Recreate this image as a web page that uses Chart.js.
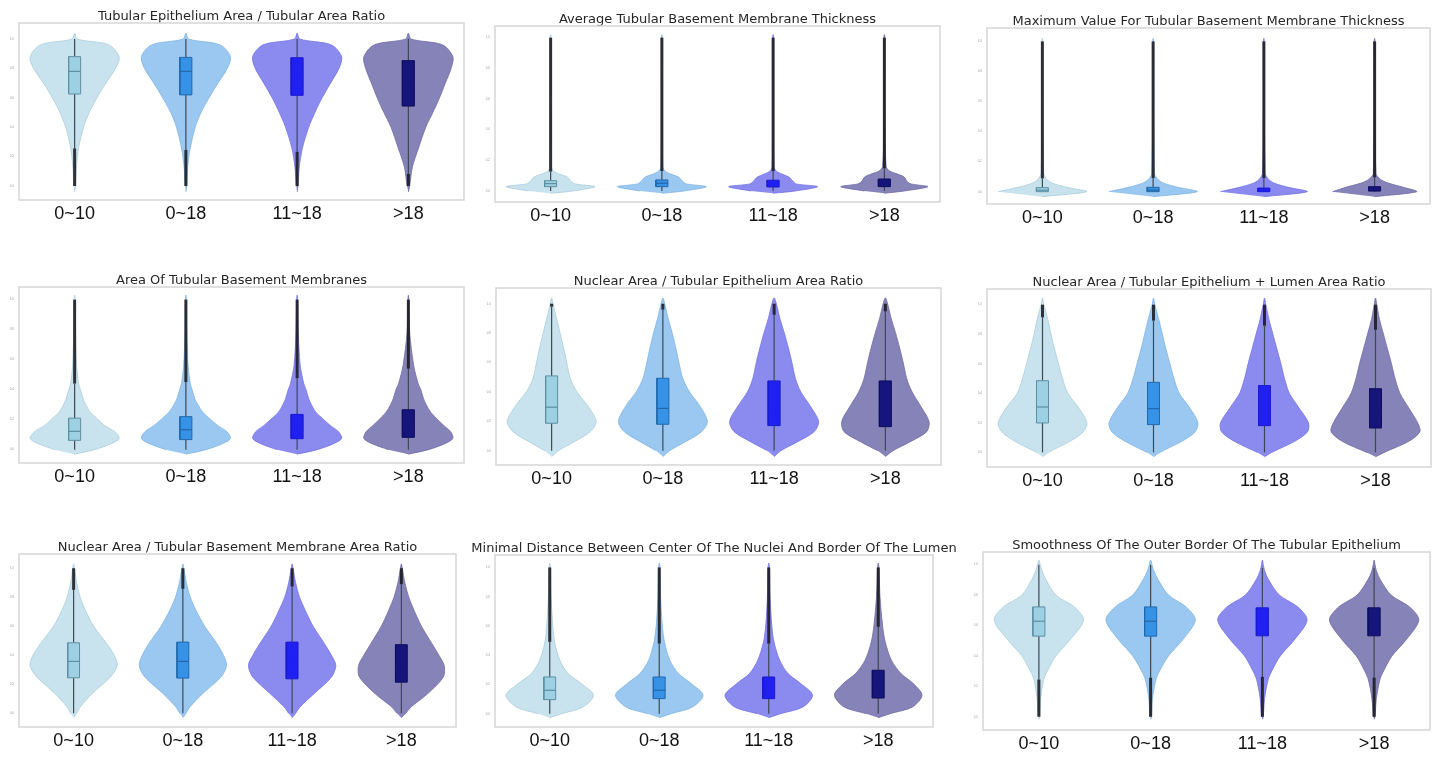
<!DOCTYPE html>
<html>
<head>
<meta charset="utf-8">
<script src="https://cdn.jsdelivr.net/npm/chart.js@4.4.1/dist/chart.umd.min.js"></script>
<style>
  html, body { margin: 0; padding: 0; background: #fff; width: 1440px; height: 757px; overflow: hidden; position: relative; }
  canvas { position: absolute; }
</style>
</head>
<body>
<script>
// dados //
const categories = ['0~10', '0~18', '11~18', '>18'];
const tickValues = [0, 0.2, 0.4, 0.6, 0.8, 1.0];
const panelTitles = [
  'Tubular Epithelium Area / Tubular Area Ratio',
  'Average Tubular Basement Membrane Thickness',
  'Maximum Value For Tubular Basement Membrane Thickness',
  'Area Of Tubular Basement Membranes',
  'Nuclear Area / Tubular Epithelium Area Ratio',
  'Nuclear Area / Tubular Epithelium + Lumen Area Ratio',
  'Nuclear Area / Tubular Basement Membrane Area Ratio',
  'Minimal Distance Between Center Of The Nuclei And Border Of The Lumen',
  'Smoothness Of The Outer Border Of The Tubular Epithelium'
];
const yRanges = [[-0.095, 1.109], [-0.072, 1.076], [-0.082, 1.089], [-0.089, 1.084], [-0.097, 1.107],
                 [-0.099, 1.106], [-0.094, 1.098], [-0.091, 1.085], [-0.087, 1.083]];

// painel 1
const p1Levels = [-0.04, 0, 0.13, 0.26, 0.4, 0.5, 0.6, 0.7, 0.8, 0.88, 0.96, 1.0, 1.04];
const p1Widths = [
  [0, 0.02, 0.04, 0.09, 0.2, 0.33, 0.5, 0.7, 0.92, 1.0, 0.77, 0.06, 0],
  [0, 0.02, 0.04, 0.1, 0.21, 0.34, 0.52, 0.72, 0.93, 1.0, 0.77, 0.06, 0],
  [0, 0.02, 0.05, 0.12, 0.26, 0.4, 0.56, 0.75, 0.94, 1.0, 0.77, 0.06, 0],
  [0, 0.03, 0.09, 0.23, 0.39, 0.55, 0.7, 0.83, 0.96, 1.0, 0.77, 0.06, 0]
];
const p1Boxes = [[0.256, 0.626, 0.78, 0.88, 1.0], [0.245, 0.62, 0.78, 0.875, 1.0], [0.233, 0.617, 0.76, 0.873, 1.0], [0.082, 0.544, 0.72, 0.853, 1.0]];
const p1Outliers = [[0, 0.256], [0, 0.245], [0, 0.233], [0, 0.082]];

// painel 2
const p2Levels = [-0.015, 0.0, 0.028, 0.046, 0.065, 0.09, 0.11, 0.13, 0.16, 0.5, 1.0, 1.02];
const p2Widths = [
  [0, 0.5, 1.0, 0.55, 0.45, 0.38, 0.2, 0.06, 0.02, 0.01, 0.01, 0],
  [0, 0.5, 1.0, 0.55, 0.46, 0.38, 0.2, 0.07, 0.02, 0.01, 0.01, 0],
  [0, 0.5, 1.0, 0.52, 0.44, 0.36, 0.2, 0.07, 0.02, 0.01, 0.01, 0],
  [0, 0.45, 0.98, 0.6, 0.5, 0.45, 0.3, 0.12, 0.04, 0.01, 0.01, 0]
];
const p2Boxes = [[0, 0.028, 0.048, 0.067, 0.126], [0, 0.028, 0.05, 0.072, 0.13], [0, 0.026, 0.048, 0.07, 0.13], [0, 0.028, 0.05, 0.078, 0.148]];
const p2Outliers = [[0.126, 1], [0.13, 1], [0.13, 1], [0.148, 1]];

// painel 3
const p3Levels = [-0.033, 0.0, 0.029, 0.056, 0.078, 0.1, 0.12, 0.5, 1.0, 1.02];
const p3Widths = [
  [0, 1.0, 0.55, 0.23, 0.11, 0.06, 0.03, 0.01, 0.01, 0],
  [0, 1.0, 0.56, 0.24, 0.12, 0.06, 0.03, 0.01, 0.01, 0],
  [0, 0.98, 0.55, 0.24, 0.12, 0.06, 0.03, 0.01, 0.01, 0],
  [0, 0.95, 0.65, 0.32, 0.15, 0.07, 0.03, 0.01, 0.01, 0]
];
const p3Boxes = [[0, 0.0, 0.01, 0.027, 0.089], [0, 0.0, 0.01, 0.029, 0.09], [0, 0.0, 0.01, 0.024, 0.09], [0, 0.004, 0.015, 0.033, 0.095]];
const p3Outliers = [[0.089, 1], [0.09, 1], [0.09, 1], [0.095, 1]];

// painel 4
const p4Levels = [-0.03, 0.0, 0.04, 0.075, 0.12, 0.16, 0.2, 0.25, 0.3, 0.34, 0.4, 0.44, 0.56, 0.78, 1.0, 1.03];
const p4Widths = [
  [0, 0.45, 0.82, 1.0, 0.9, 0.68, 0.53, 0.35, 0.25, 0.19, 0.13, 0.09, 0.045, 0.02, 0.01, 0],
  [0, 0.45, 0.82, 1.0, 0.92, 0.72, 0.56, 0.38, 0.27, 0.2, 0.14, 0.1, 0.05, 0.02, 0.01, 0],
  [0, 0.45, 0.82, 1.0, 0.93, 0.75, 0.6, 0.42, 0.32, 0.26, 0.2, 0.15, 0.07, 0.025, 0.01, 0],
  [0, 0.45, 0.82, 1.0, 0.95, 0.8, 0.66, 0.5, 0.4, 0.34, 0.28, 0.22, 0.12, 0.03, 0.01, 0]
];
const p4Boxes = [[0, 0.062, 0.122, 0.21, 0.44], [0, 0.067, 0.133, 0.22, 0.45], [0, 0.073, 0.14, 0.235, 0.476], [0, 0.082, 0.16, 0.266, 0.54]];
const p4Outliers = [[0.44, 1], [0.45, 1], [0.476, 1], [0.54, 1]];

// painel 5
const p5Levels = [-0.04, 0.0, 0.06, 0.13, 0.2, 0.31, 0.4, 0.49, 0.6, 0.7, 0.8, 0.9, 1.0, 1.04];
const p5Widths = [
  [0, 0.15, 0.5, 0.87, 1.0, 0.8, 0.57, 0.42, 0.34, 0.27, 0.19, 0.11, 0.03, 0],
  [0, 0.15, 0.5, 0.87, 1.0, 0.82, 0.6, 0.45, 0.36, 0.29, 0.21, 0.12, 0.04, 0],
  [0, 0.15, 0.52, 0.9, 1.0, 0.8, 0.6, 0.48, 0.4, 0.32, 0.23, 0.13, 0.05, 0],
  [0, 0.17, 0.55, 0.93, 0.98, 0.78, 0.6, 0.48, 0.4, 0.32, 0.23, 0.13, 0.05, 0]
];
const p5Boxes = [[0, 0.187, 0.296, 0.509, 0.98], [0, 0.18, 0.288, 0.493, 0.96], [0, 0.171, 0.28, 0.475, 0.925], [0, 0.164, 0.27, 0.475, 0.948]];
const p5Outliers = [[0.98, 1], [0.96, 1], [0.925, 1], [0.948, 1]];

// painel 6
const p6Levels = [-0.03, 0.0, 0.075, 0.14, 0.2, 0.3, 0.4, 0.5, 0.6, 0.7, 0.8, 0.9, 1.0, 1.045];
const p6Widths = [
  [0, 0.13, 0.62, 0.92, 1.0, 0.82, 0.57, 0.45, 0.36, 0.27, 0.19, 0.12, 0.03, 0],
  [0, 0.14, 0.64, 0.94, 1.0, 0.82, 0.58, 0.46, 0.37, 0.28, 0.2, 0.12, 0.03, 0],
  [0, 0.16, 0.68, 0.97, 0.99, 0.78, 0.56, 0.45, 0.37, 0.28, 0.19, 0.1, 0.03, 0],
  [0, 0.2, 0.75, 1.0, 0.95, 0.75, 0.55, 0.44, 0.36, 0.27, 0.18, 0.09, 0.03, 0]
];
const p6Boxes = [[0, 0.199, 0.307, 0.485, 0.914], [0, 0.188, 0.296, 0.474, 0.892], [0, 0.181, 0.28, 0.452, 0.858], [0, 0.165, 0.26, 0.431, 0.83]];
const p6Outliers = [[0.914, 1], [0.892, 1], [0.858, 1], [0.83, 1]];

// painel 7
const p7Levels = [-0.03, 0.0, 0.044, 0.135, 0.25, 0.33, 0.4, 0.48, 0.6, 0.71, 0.8, 0.9, 1.0, 1.03];
const p7Widths = [
  [0, 0.07, 0.15, 0.42, 0.84, 1.0, 0.93, 0.76, 0.46, 0.27, 0.15, 0.07, 0.02, 0],
  [0, 0.07, 0.16, 0.45, 0.87, 1.0, 0.93, 0.78, 0.5, 0.3, 0.17, 0.08, 0.02, 0],
  [0, 0.08, 0.18, 0.5, 0.9, 1.0, 0.9, 0.74, 0.48, 0.3, 0.17, 0.08, 0.02, 0],
  [0, 0.1, 0.22, 0.6, 0.96, 0.98, 0.86, 0.7, 0.46, 0.29, 0.17, 0.08, 0.02, 0]
];
const p7Boxes = [[0, 0.245, 0.358, 0.486, 0.851], [0, 0.243, 0.358, 0.491, 0.858], [0, 0.238, 0.35, 0.491, 0.874], [0, 0.215, 0.33, 0.473, 0.89]];
const p7Outliers = [[0.851, 1], [0.858, 1], [0.874, 1], [0.89, 1]];

// painel 8
const p8Levels = [-0.027, 0.0, 0.046, 0.126, 0.206, 0.274, 0.366, 0.49, 0.6, 0.8, 1.0, 1.03];
const p8Widths = [
  [0, 0.27, 0.76, 1.0, 0.72, 0.42, 0.23, 0.11, 0.07, 0.03, 0.015, 0],
  [0, 0.27, 0.76, 1.0, 0.73, 0.44, 0.24, 0.12, 0.07, 0.03, 0.015, 0],
  [0, 0.27, 0.78, 1.0, 0.73, 0.44, 0.25, 0.12, 0.07, 0.03, 0.015, 0],
  [0, 0.27, 0.78, 1.0, 0.8, 0.52, 0.3, 0.16, 0.1, 0.04, 0.015, 0]
];
const p8Boxes = [[0, 0.096, 0.16, 0.251, 0.491], [0, 0.103, 0.16, 0.251, 0.479], [0, 0.103, 0.155, 0.251, 0.479], [0, 0.107, 0.19, 0.297, 0.594]];
const p8Outliers = [[0.491, 1], [0.479, 1], [0.479, 1], [0.594, 1]];

// painel 9
const p9Levels = [-0.017, 0.0, 0.12, 0.245, 0.306, 0.4, 0.5, 0.635, 0.72, 0.8, 0.9, 0.96, 1.0, 1.03];
const p9Widths = [
  [0, 0.02, 0.04, 0.11, 0.2, 0.38, 0.68, 1.0, 0.8, 0.38, 0.16, 0.07, 0.03, 0],
  [0, 0.02, 0.04, 0.12, 0.21, 0.4, 0.7, 1.0, 0.8, 0.4, 0.17, 0.07, 0.03, 0],
  [0, 0.02, 0.05, 0.13, 0.22, 0.4, 0.7, 1.0, 0.8, 0.38, 0.14, 0.05, 0.02, 0],
  [0, 0.02, 0.05, 0.13, 0.22, 0.4, 0.7, 1.0, 0.8, 0.38, 0.14, 0.05, 0.02, 0]
];
const p9Boxes = [[0.245, 0.53, 0.628, 0.722, 1.0], [0.257, 0.53, 0.628, 0.722, 1.0], [0.262, 0.532, 0.62, 0.716, 0.98], [0.257, 0.532, 0.62, 0.716, 0.98]];
const p9Outliers = [[0, 0.245], [0, 0.257], [0, 0.262], [0, 0.257]];

// layout e estilo //
const boxRects = [
  [19, 23, 464, 200], [495, 26, 940, 202], [987, 28, 1430, 204],
  [19, 287, 464, 463], [496, 288, 941, 465], [987, 289, 1431, 467],
  [19, 554, 456, 727], [495, 555, 933, 727], [983, 552, 1430, 730]
];
const SIDE = 30, TITLE_H = 13, XAXIS_H = 30;
const VIOLIN_HALF = 0.4, BOX_HALF = 0.054;
const violinFill = ['#c9e3ee', '#9bc8f0', '#8b8bef', '#8683b8'];
const violinEdge = ['#a9cddd', '#80b4e2', '#7474e2', '#6e6ba6'];
const boxFill = ['#9dd0e3', '#3592e6', '#2020f0', '#15157c'];
const boxEdge = ['#5e8fa2', '#2467aa', '#1a1ad0', '#0e0e5a'];
const medianColor = ['#5e8fa2', '#2467aa', '#2020ee', '#15157c'];

const panels = [
  { levels: p1Levels, widths: p1Widths, boxes: p1Boxes, outliers: p1Outliers },
  { levels: p2Levels, widths: p2Widths, boxes: p2Boxes, outliers: p2Outliers },
  { levels: p3Levels, widths: p3Widths, boxes: p3Boxes, outliers: p3Outliers },
  { levels: p4Levels, widths: p4Widths, boxes: p4Boxes, outliers: p4Outliers },
  { levels: p5Levels, widths: p5Widths, boxes: p5Boxes, outliers: p5Outliers },
  { levels: p6Levels, widths: p6Widths, boxes: p6Boxes, outliers: p6Outliers },
  { levels: p7Levels, widths: p7Widths, boxes: p7Boxes, outliers: p7Outliers },
  { levels: p8Levels, widths: p8Widths, boxes: p8Boxes, outliers: p8Outliers },
  { levels: p9Levels, widths: p9Widths, boxes: p9Boxes, outliers: p9Outliers }
];

// moldura cinza em volta da area do grafico
const framePlugin = {
  id: 'frame',
  beforeDatasetsDraw(chart) {
    const a = chart.chartArea;
    const ctx = chart.ctx;
    ctx.save();
    ctx.strokeStyle = '#d6d6d6';
    ctx.lineWidth = 1.5;
    ctx.strokeRect(a.left, a.top, a.right - a.left, a.bottom - a.top);
    ctx.restore();
  }
};

function contornoViolino(g, levels, widths) {
  const n = levels.length;
  const pts = [];
  for (let j = 0; j < n; j++) pts.push({ x: g + widths[j] * VIOLIN_HALF, y: levels[j] });
  for (let j = n - 2; j >= 1; j--) pts.push({ x: g - widths[j] * VIOLIN_HALF, y: levels[j] });
  return pts;
}

function linha(data, color, width, order, extra) {
  return Object.assign({
    type: 'line', data, borderColor: color, borderWidth: width,
    pointRadius: 0, fill: false, tension: 0, order
  }, extra || {});
}

function montarDatasets(p) {
  const ds = [];
  categories.forEach((cat, g) => {
    const [lo, q1, med, q3, hi] = p.boxes[g];
    const [oa, ob] = p.outliers[g];
    ds.push(linha(contornoViolino(g, p.levels, p.widths[g]), violinEdge[g], 0.8, 6,
      { fill: 'shape', backgroundColor: violinFill[g], tension: 0.3 }));
    ds.push(linha([{ x: g, y: lo }, { x: g, y: q1 }], '#3d4852', 1.2, 5));
    ds.push(linha([{ x: g, y: q3 }, { x: g, y: hi }], '#3d4852', 1.2, 5));
    ds.push(linha([
      { x: g - BOX_HALF, y: q1 }, { x: g + BOX_HALF, y: q1 }, { x: g + BOX_HALF, y: q3 },
      { x: g - BOX_HALF, y: q3 }, { x: g - BOX_HALF, y: q1 }
    ], boxEdge[g], 1, 4, { fill: 'shape', backgroundColor: boxFill[g] }));
    ds.push(linha([{ x: g - BOX_HALF, y: med }, { x: g + BOX_HALF, y: med }], medianColor[g], 1.2, 3));
    ds.push(linha([{ x: g, y: oa }, { x: g, y: ob }], 'rgba(25,25,30,0.88)', 3, 2));
  });
  return ds;
}

panels.forEach((p, k) => {
  const [l, t, r, b] = boxRects[k];
  const canvas = document.createElement('canvas');
  canvas.width = (r - l) + SIDE * 2;
  canvas.height = TITLE_H + (b - t) + XAXIS_H;
  canvas.style.left = (l - SIDE) + 'px';
  canvas.style.top = (t - TITLE_H) + 'px';
  document.body.appendChild(canvas);

  new Chart(canvas.getContext('2d'), {
    type: 'line',
    data: { datasets: montarDatasets(p) },
    options: {
      responsive: false,
      animation: false,
      devicePixelRatio: 1,
      layout: { padding: 0 },
      plugins: {
        legend: { display: false },
        tooltip: { enabled: false },
        title: {
          display: true, text: panelTitles[k], color: '#262626',
          padding: 0, font: { family: 'DejaVu Sans', size: 13, weight: 'normal', lineHeight: 1 }
        }
      },
      scales: {
        x: {
          type: 'linear', min: -0.5, max: 3.5,
          grid: { display: false, drawTicks: false }, border: { display: false },
          afterBuildTicks: s => { s.ticks = categories.map((c, i) => ({ value: i })); },
          afterFit: s => { s.height = XAXIS_H; },
          ticks: {
            autoSkip: false, maxRotation: 0, padding: 3, color: '#111',
            font: { family: 'Liberation Sans', size: 18 },
            callback: v => categories[v]
          }
        },
        y: {
          type: 'linear', min: yRanges[k][0], max: yRanges[k][1],
          grid: { display: false, drawTicks: false }, border: { display: false },
          afterBuildTicks: s => { s.ticks = tickValues.map(v => ({ value: v })); },
          afterFit: s => { s.width = SIDE; },
          ticks: { padding: 5, color: '#999', font: { size: 3 }, callback: v => v.toFixed(1) }
        },
        y2: {
          type: 'linear', position: 'right', display: true,
          grid: { display: false, drawTicks: false }, border: { display: false },
          ticks: { display: false },
          afterFit: s => { s.width = SIDE; }
        }
      }
    },
    plugins: [framePlugin]
  });
});
</script>
</body>
</html>
